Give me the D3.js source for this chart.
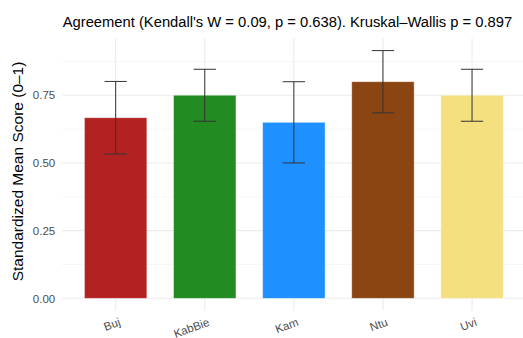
<!DOCTYPE html>
<html>
<head>
<meta charset="utf-8">
<script src="https://cdn.jsdelivr.net/npm/d3@7"></script>
<style>
  html, body { margin: 0; padding: 0; background: #fff; }
  svg { display: block; font-family: "Liberation Sans", Arial, sans-serif; }
</style>
</head>
<body>
<svg id="chart" width="523" height="338"></svg>
<script>
// Group scores with their spread
const groups = ["Buj", "KabBie", "Kam", "Ntu", "Uvi"];
const means = [0.667, 0.75, 0.65, 0.80, 0.75];
const errors = [0.134, 0.096, 0.15, 0.115, 0.096];
const fills = ["#B22222", "#228B22", "#1E90FF", "#8B4513", "#F4E07F"];
const yTicks = [0, 0.25, 0.5, 0.75];
const yMinor = [0.125, 0.375, 0.625, 0.875];
const titleText = "Agreement (Kendall's W = 0.09, p = 0.638). Kruskal\u2013Wallis p = 0.897";
const yTitle = "Standardized Mean Score (0\u20131)";

const svg = d3.select("#chart");
const panel = { left: 62.2, right: 525.5, top: 38.2, bottom: 310.7 };

const rows = groups.map((g, i) => ({ g, m: means[i], e: errors[i], c: fills[i] }));
const yMax = d3.max(rows, d => d.m + d.e);
const pad = yMax * 0.05;

const x = d3.scaleBand().domain(groups).range([panel.left, panel.right])
  .paddingInner(0.3).paddingOuter(0.25);
const y = d3.scaleLinear().domain([-pad, yMax + pad]).range([panel.bottom, panel.top]);
const cx = d => x(d) + x.bandwidth() / 2;

const plot = svg.append("g");

// grid
plot.selectAll("line.minor").data(yMinor).join("line")
  .attr("x1", panel.left).attr("x2", panel.right)
  .attr("y1", d => y(d)).attr("y2", d => y(d))
  .attr("stroke", "#f2f2f2").attr("stroke-width", 0.7);
plot.selectAll("line.major").data(yTicks).join("line")
  .attr("x1", panel.left).attr("x2", panel.right)
  .attr("y1", d => y(d)).attr("y2", d => y(d))
  .attr("stroke", "#ebebeb").attr("stroke-width", 1.1);
plot.selectAll("line.vgrid").data(groups).join("line")
  .attr("x1", cx).attr("x2", cx)
  .attr("y1", panel.top).attr("y2", panel.bottom)
  .attr("stroke", "#ebebeb").attr("stroke-width", 1.1);

// bars
plot.selectAll("rect.bar").data(rows).join("rect")
  .attr("x", d => x(d.g)).attr("width", x.bandwidth())
  .attr("y", d => y(d.m)).attr("height", d => y(0) - y(d.m))
  .attr("fill", d => d.c)
  .attr("stroke", "rgba(255,255,255,0.45)").attr("stroke-width", 0.8);

// error bars
const capW = x.step() * 0.25;
const eb = plot.selectAll("g.err").data(rows).join("g")
  .attr("stroke", "#333").attr("stroke-width", 1).attr("fill", "none");
eb.append("line")
  .attr("x1", d => cx(d.g)).attr("x2", d => cx(d.g))
  .attr("y1", d => y(d.m + d.e)).attr("y2", d => y(d.m - d.e));
eb.append("line")
  .attr("x1", d => cx(d.g) - capW / 2).attr("x2", d => cx(d.g) + capW / 2)
  .attr("y1", d => y(d.m + d.e)).attr("y2", d => y(d.m + d.e));
eb.append("line")
  .attr("x1", d => cx(d.g) - capW / 2).attr("x2", d => cx(d.g) + capW / 2)
  .attr("y1", d => y(d.m - d.e)).attr("y2", d => y(d.m - d.e));

// y axis labels
const yAxis = svg.append("g").attr("transform", `translate(${panel.left},0)`)
  .call(d3.axisLeft(y).tickValues(yTicks).tickFormat(d3.format(".2f")).tickSize(0).tickPadding(7));
yAxis.select(".domain").remove();
yAxis.selectAll("text").attr("fill", "#4d4d4d").style("font-size", "11.5px")
  .style("font-family", "'Liberation Sans', Arial, sans-serif");

// x axis labels, tilted
const xAxis = svg.append("g").attr("transform", `translate(0,${panel.bottom})`)
  .call(d3.axisBottom(x).tickSize(0).tickPadding(0));
xAxis.select(".domain").remove();
xAxis.selectAll("text")
  .attr("fill", "#4d4d4d").style("font-size", "11.5px")
  .style("font-family", "'Liberation Sans', Arial, sans-serif")
  .attr("text-anchor", "end")
  .attr("y", 0).attr("dy", 0)
  .attr("transform", "translate(5.5,14.5) rotate(-20)");

// titles
svg.append("text").attr("x", 62.7).attr("y", 27)
  .attr("fill", "#000").style("font-size", "14.75px").text(titleText);
svg.append("text")
  .attr("transform", `translate(23,${(panel.top + panel.bottom) / 2 - 3}) rotate(-90)`)
  .attr("text-anchor", "middle").attr("fill", "#000").style("font-size", "15.5px")
  .text(yTitle);
</script>
</body>
</html>
